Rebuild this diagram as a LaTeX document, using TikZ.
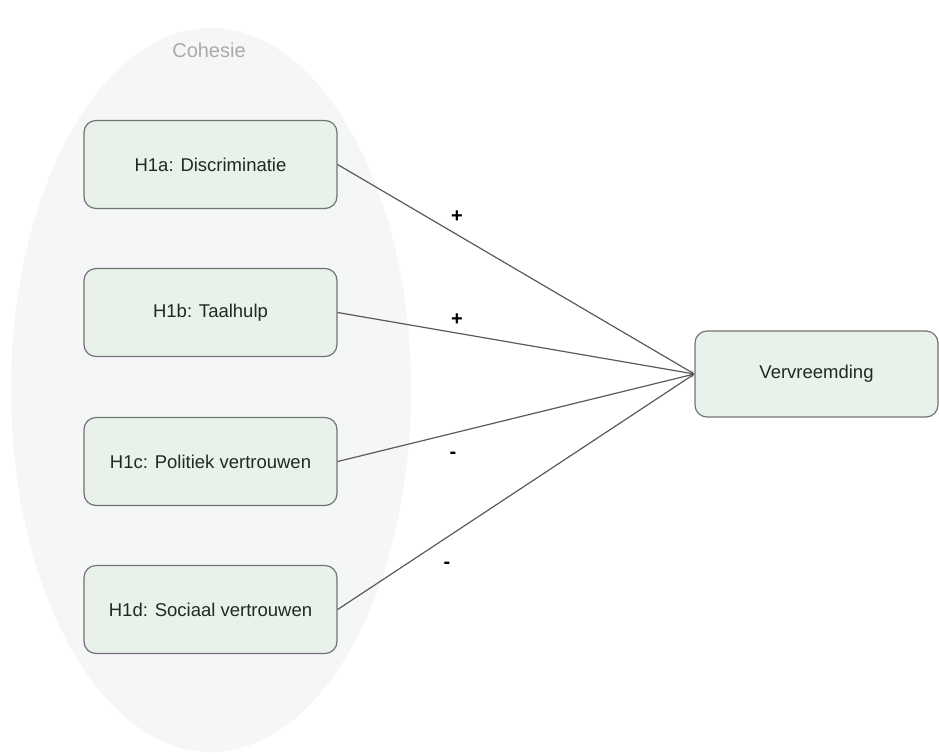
\documentclass[tikz,border=0pt]{standalone}
\usepackage{fontspec}
\setmainfont{Liberation Sans}
\usetikzlibrary{arrows.meta}
\definecolor{boxfill}{RGB}{232,241,234}
\definecolor{boxdraw}{RGB}{112,116,114}
\definecolor{ellfill}{RGB}{245,246,248}
\definecolor{linecol}{RGB}{90,90,90}
\definecolor{txtcol}{RGB}{35,40,35}
\definecolor{grouptxt}{RGB}{168,170,172}
\tikzset{
  hbox/.style={draw=boxdraw, fill=boxfill, line width=1.2pt, rounded corners=12pt,
    minimum width=253pt, minimum height=88pt, inner sep=0pt,
    font=\fontsize{18.5}{21}\selectfont, text=txtcol},
  conn/.style={draw=linecol, line width=1.2pt, -{Stealth[length=4pt,width=3pt]}},
  sign/.style={font=\fontsize{20}{22}\selectfont\bfseries, text=black, inner sep=0pt}
}
\begin{document}
\begin{tikzpicture}[x=1pt,y=-1pt]
\useasboundingbox (0,0) rectangle (939,753);
\fill[ellfill] (211,390) ellipse [x radius=200, y radius=362];
\node[text=grouptxt, font=\fontsize{20}{22}\selectfont] (coh) at (209,50) {Cohesie};
\node[hbox] (a) at (210.5,164.5) {H1a: Discriminatie};
\node[hbox] (b) at (210.5,312.5) {H1b: Taalhulp};
\node[hbox] (c) at (210.5,461.5) {H1c: Politiek vertrouwen};
\node[hbox] (d) at (210.5,609.5) {H1d: Sociaal vertrouwen};
\node[hbox, minimum width=243pt, minimum height=86pt] (v) at (816.5,374) {Vervreemding};
\draw[conn] (a.east) -- (v.west);
\draw[conn] (b.east) -- (v.west);
\draw[conn] (c.east) -- (v.west);
\draw[conn] (d.east) -- (v.west);
\node[sign] (s1) at (457,217) {+};
\node[sign] (s2) at (457,320) {+};
\node[sign] (s3) at (453,455) {-};
\node[sign] (s4) at (447,565) {-};
\end{tikzpicture}
\end{document}
